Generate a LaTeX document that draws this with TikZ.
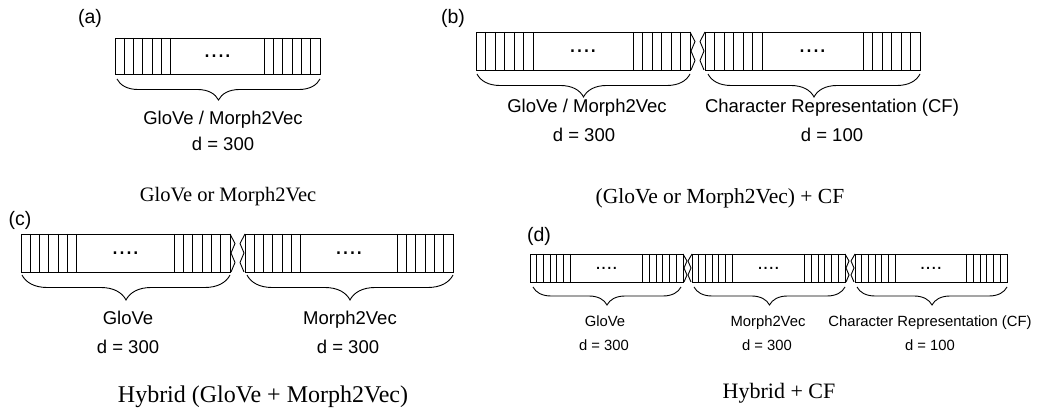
\documentclass[tikz,border=0pt]{standalone}
\usepackage{fontspec}
\setmainfont{Liberation Serif}
\setsansfont{Liberation Sans}
\usetikzlibrary{decorations.pathreplacing}
\newcommand{\vecbar}[6]{%
  \draw[boxline] (#1,#3) rectangle (#2,#4);
  \foreach \i in {1,...,6}{%
    \draw[boxline] ({#1+\i*#5},#3) -- ({#1+\i*#5},#4);
    \draw[boxline] ({#2-\i*#5},#3) -- ({#2-\i*#5},#4);
  }
  \node[dotsty] (#6) at ({(#1+#2)/2},{(#3+#4)/2}) {....};
}
\newcommand{\zigbrk}[5]{%
  \draw[boxline] (#1,#3) -- ({#1+#5},{#3+0.25*(#4-#3)}) -- ({#1+1},{#3+0.5*(#4-#3)}) -- ({#1+#5},{#3+0.75*(#4-#3)}) -- ({#1+1},#4);
  \draw[boxline] (#2,#3) -- ({#2-#5},{#3+0.25*(#4-#3)}) -- ({#2-1},{#3+0.5*(#4-#3)}) -- ({#2-#5},{#3+0.75*(#4-#3)}) -- ({#2-1},#4);
}
\begin{document}
\begin{tikzpicture}[x=1pt,y=-1pt,
  boxline/.style={line width=0.9pt, draw=black},
  bracestyle/.style={decorate, decoration={brace, mirror, amplitude=#1}, line width=0.9pt},
  dotsty/.style={font=\sffamily\fontsize{25}{25}\selectfont, inner sep=0pt},
  lab/.style={font=\sffamily\fontsize{18.5}{20}\selectfont, anchor=base, inner sep=0pt},
  labs/.style={font=\sffamily\fontsize{14.8}{16}\selectfont, anchor=base, inner sep=0pt},
  cap/.style={font=\rmfamily\fontsize{#1}{#1}\selectfont, anchor=base, inner sep=0pt},
  tag/.style={font=\sffamily\fontsize{19.5}{20}\selectfont, anchor=base, inner sep=0pt}]
\useasboundingbox (0,0) rectangle (1041,411);

% ---------- (a)
\node[tag] (ta) at (90,24) {(a)};
\vecbar{115}{320}{38}{74}{9.3}{da}
\coordinate (a1) at (117,79); \coordinate (a2) at (320,79);
\draw[bracestyle=21] (a1) -- (a2);
\node[lab] (a-name) at (223,124.6) {GloVe / Morph2Vec};
\node[lab] (a-dim) at (223,150.6) {d = 300};
\node[cap=20.5] (a-cap) at (228,201.5) {GloVe or Morph2Vec};

% ---------- (b)
\node[tag] (tb) at (453,24) {(b)};
\vecbar{476}{690}{32}{70}{9.5}{db1}
\vecbar{705}{920}{32}{70}{9.5}{db2}
\zigbrk{690}{705}{32}{70}{5}
\coordinate (b1) at (477,74); \coordinate (b2) at (690,74);
\coordinate (b3) at (708,74); \coordinate (b4) at (920,74);
\draw[bracestyle=23] (b1) -- (b2);
\draw[bracestyle=23] (b3) -- (b4);
\node[lab] (b-name1) at (587,113) {GloVe / Morph2Vec};
\node[lab] (b-dim1) at (584,142) {d = 300};
\node[lab] (b-name2) at (832,113) {Character Representation (CF)};
\node[lab] (b-dim2) at (832,142) {d = 100};
\node[cap=21.5] (b-cap) at (720,204) {(GloVe or Morph2Vec) + CF};

% ---------- (c)
\node[tag] (tc) at (20,226) {(c)};
\vecbar{21}{230}{234}{272}{9.3}{dc1}
\vecbar{245}{453}{234}{272}{9.3}{dc2}
\zigbrk{230}{245}{234}{272}{5}
\coordinate (c1) at (22,275); \coordinate (c2) at (230,275);
\coordinate (c3) at (247,275); \coordinate (c4) at (453,275);
\draw[bracestyle=25] (c1) -- (c2);
\draw[bracestyle=25] (c3) -- (c4);
\node[lab] (c-name1) at (128,324.8) {GloVe};
\node[lab] (c-dim1) at (128,353.8) {d = 300};
\node[lab] (c-name2) at (350,324.8) {Morph2Vec};
\node[lab] (c-dim2) at (348,353.8) {d = 300};
\node[cap=24] (c-cap) at (263,402) {Hybrid (GloVe + Morph2Vec)};

% ---------- (d)
\node[tag] (td) at (539,242) {(d)};
\begin{scope}[dotsty/.append style={font=\sffamily\fontsize{20}{20}\selectfont}]
\vecbar{530}{683}{254}{282}{6.7}{dd1}
\vecbar{692}{845}{254}{282}{6.7}{dd2}
\vecbar{855}{1007}{254}{282}{6.7}{dd3}
\end{scope}
\zigbrk{683}{692}{254}{282}{4}
\zigbrk{845}{855}{254}{282}{4}
\coordinate (d1) at (533,287); \coordinate (d2) at (681,287);
\coordinate (d3) at (694,287); \coordinate (d4) at (845,287);
\coordinate (d5) at (857,287); \coordinate (d6) at (1007,287);
\draw[bracestyle=18] (d1) -- (d2);
\draw[bracestyle=18] (d3) -- (d4);
\draw[bracestyle=18] (d5) -- (d6);
\node[labs] (d-name1) at (605,326.3) {GloVe};
\node[labs] (d-dim1) at (604,350.3) {d = 300};
\node[labs] (d-name2) at (768,326.3) {Morph2Vec};
\node[labs] (d-dim2) at (767,350.3) {d = 300};
\node[labs] (d-name3) at (930,326.3) {Character Representation (CF)};
\node[labs] (d-dim3) at (930,350.3) {d = 100};
\node[cap=22] (d-cap) at (779,398) {Hybrid + CF};
\end{tikzpicture}
\end{document}
